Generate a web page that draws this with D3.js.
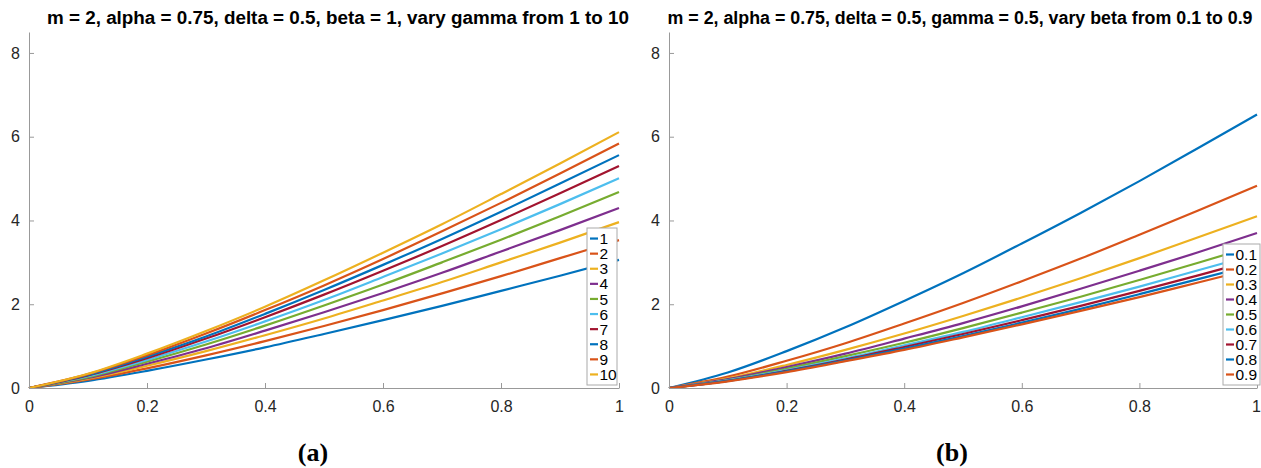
<!DOCTYPE html>
<html>
<head>
<meta charset="utf-8">
<script src="https://cdn.jsdelivr.net/npm/d3@7"></script>
<style>
  body { margin: 0; background: #fff; }
  svg { display: block; }
  .tick text { font-family: "Liberation Sans", Arial, sans-serif; font-size: 16px; fill: #262626; }
</style>
</head>
<body>
<svg id="chart" width="1261" height="468"></svg>
<script>
// sample positions along x
const xs = [0, 0.1, 0.2, 0.3, 0.4, 0.5, 0.6, 0.7, 0.8, 0.9, 1];

// panel (a): vary gamma
const gammaLabels = ["1", "2", "3", "4", "5", "6", "7", "8", "9", "10"];
const gammaSeries = [
  [0, 0.17, 0.41, 0.68, 0.97, 1.29, 1.62, 1.96, 2.32, 2.68, 3.06],
  [0, 0.20, 0.47, 0.78, 1.12, 1.48, 1.86, 2.26, 2.67, 3.10, 3.53],
  [0, 0.22, 0.53, 0.88, 1.26, 1.66, 2.09, 2.53, 3.00, 3.47, 3.96],
  [0, 0.24, 0.58, 0.95, 1.37, 1.81, 2.27, 2.75, 3.26, 3.77, 4.30],
  [0, 0.26, 0.63, 1.04, 1.49, 1.97, 2.47, 3.00, 3.54, 4.10, 4.68],
  [0, 0.28, 0.67, 1.11, 1.59, 2.10, 2.65, 3.21, 3.79, 4.39, 5.01],
  [0, 0.30, 0.71, 1.18, 1.69, 2.23, 2.80, 3.39, 4.01, 4.65, 5.30],
  [0, 0.31, 0.75, 1.23, 1.77, 2.34, 2.94, 3.56, 4.21, 4.88, 5.56],
  [0, 0.33, 0.78, 1.30, 1.86, 2.45, 3.08, 3.74, 4.42, 5.12, 5.84],
  [0, 0.34, 0.82, 1.36, 1.94, 2.57, 3.23, 3.91, 4.63, 5.36, 6.11]
];

// panel (b): vary beta
const betaLabels = ["0.1", "0.2", "0.3", "0.4", "0.5", "0.6", "0.7", "0.8", "0.9"];
const betaSeries = [
  [0, 0.37, 0.88, 1.45, 2.08, 2.74, 3.45, 4.18, 4.94, 5.73, 6.53],
  [0, 0.27, 0.65, 1.07, 1.54, 2.03, 2.55, 3.09, 3.66, 4.24, 4.83],
  [0, 0.23, 0.55, 0.91, 1.30, 1.72, 2.16, 2.62, 3.10, 3.60, 4.10],
  [0, 0.21, 0.50, 0.82, 1.18, 1.55, 1.95, 2.37, 2.80, 3.24, 3.70],
  [0, 0.19, 0.46, 0.76, 1.08, 1.43, 1.80, 2.18, 2.58, 2.99, 3.41],
  [0, 0.18, 0.43, 0.71, 1.02, 1.34, 1.69, 2.05, 2.42, 2.81, 3.20],
  [0, 0.17, 0.41, 0.68, 0.98, 1.29, 1.62, 1.96, 2.32, 2.69, 3.07],
  [0, 0.17, 0.40, 0.66, 0.94, 1.24, 1.56, 1.89, 2.24, 2.60, 2.96],
  [0, 0.16, 0.38, 0.64, 0.91, 1.21, 1.52, 1.84, 2.17, 2.52, 2.87]
];

const xTicks = [0, 0.2, 0.4, 0.6, 0.8, 1];
const xTickLabels = ["0", "0.2", "0.4", "0.6", "0.8", "1"];
const yTicks = [0, 2, 4, 6, 8];

const colors = ["#0072BD", "#D95319", "#EDB120", "#7E2F8E", "#77AC30", "#4DBEEE", "#A2142F"];

const svg = d3.select("#chart");

function drawPanel(opt) {
  const x = d3.scaleLinear().domain([0, 1]).range([opt.left, opt.right]);
  const y = d3.scaleLinear().domain([0, 8.5]).range([388, 32]);
  const g = svg.append("g");

  const line = d3.line()
    .x((d, i) => x(xs[i]))
    .y(d => y(d))
    .curve(d3.curveMonotoneX);

  g.selectAll("path.curve")
    .data(opt.series)
    .join("path")
    .attr("class", "curve")
    .attr("fill", "none")
    .attr("stroke", (d, i) => colors[i % colors.length])
    .attr("stroke-width", 2.2)
    .attr("d", line);

  // axes, ticks pointing inward
  const xAxis = g.append("g")
    .attr("transform", `translate(0,${y(0)})`)
    .call(d3.axisBottom(x).tickValues(xTicks)
      .tickFormat((d, i) => xTickLabels[i])
      .tickSizeInner(-5).tickSizeOuter(0).tickPadding(13));
  const yAxis = g.append("g")
    .attr("transform", `translate(${opt.left},0)`)
    .call(d3.axisLeft(y).tickValues(yTicks)
      .tickSizeInner(-5).tickSizeOuter(0).tickPadding(9));
  [xAxis, yAxis].forEach(a => {
    a.select(".domain").attr("stroke", "#999");
    a.selectAll(".tick line").attr("stroke", "#999");
  });
  if (opt.lastTickDx) {
    xAxis.selectAll(".tick text").filter((d, i) => i === xTicks.length - 1)
      .attr("dx", opt.lastTickDx);
  }

  // title, stretched a little to the reference width
  g.append("text")
    .attr("x", opt.titleX)
    .attr("y", 24)
    .attr("text-anchor", "middle")
    .attr("font-family", "Liberation Sans, Arial, sans-serif")
    .attr("font-weight", "bold")
    .attr("font-size", 17.5)
    .attr("fill", "#000")
    .attr("textLength", opt.titleW)
    .attr("lengthAdjust", "spacingAndGlyphs")
    .text(opt.title);

  // caption
  g.append("text")
    .attr("x", opt.captionX)
    .attr("y", 461)
    .attr("text-anchor", "middle")
    .attr("font-family", "Liberation Serif, Times New Roman, serif")
    .attr("font-weight", "bold")
    .attr("font-size", 26)
    .text(opt.caption);

  // legend
  const lg = g.append("g");
  const n = opt.labels.length;
  lg.append("rect")
    .attr("x", opt.legX)
    .attr("y", opt.legY)
    .attr("width", opt.legW)
    .attr("height", 385 - opt.legY)
    .attr("fill", "#fff")
    .attr("stroke", "#aaa")
    .attr("stroke-width", 1);
  const step = (385 - opt.legY - 6) / n;
  const items = lg.selectAll("g.item")
    .data(opt.labels)
    .join("g")
    .attr("transform", (d, i) => `translate(${opt.legX + 3},${opt.legY + 3 + step * (i + 0.5)})`);
  items.append("line")
    .attr("x1", 0).attr("x2", 8)
    .attr("stroke", (d, i) => colors[i % colors.length])
    .attr("stroke-width", 2.2);
  items.append("text")
    .attr("x", 9.5)
    .attr("dy", "0.36em")
    .attr("font-family", "Liberation Sans, Arial, sans-serif")
    .attr("font-size", 15.5)
    .attr("fill", "#000")
    .text(d => d);
}

drawPanel({
  left: 29, right: 619, series: gammaSeries, labels: gammaLabels,
  title: "m = 2, alpha = 0.75, delta = 0.5, beta = 1, vary gamma from 1 to 10",
  titleX: 338, titleW: 582, caption: "(a)", captionX: 313,
  legX: 587, legY: 228, legW: 30
});
drawPanel({
  left: 669, right: 1257, series: betaSeries, labels: betaLabels,
  title: "m = 2, alpha = 0.75, delta = 0.5, gamma = 0.5, vary beta from 0.1 to 0.9",
  titleX: 960, titleW: 585, caption: "(b)", captionX: 952,
  legX: 1223, legY: 244, legW: 37, lastTickDx: -1
});
</script>
</body>
</html>
